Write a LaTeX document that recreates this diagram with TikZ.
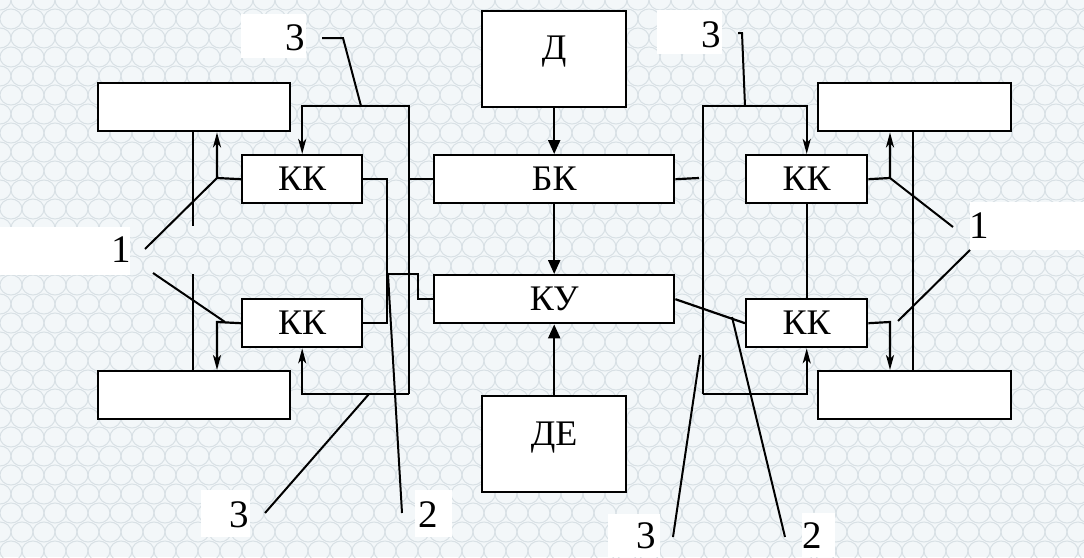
\documentclass[tikz,border=0pt]{standalone}
\usepackage{fontspec}
\setmainfont{Liberation Serif}
\usetikzlibrary{arrows.meta}
\definecolor{bgc}{HTML}{F3F7F9}
\definecolor{patc}{HTML}{D8E0E5}
\begin{document}
\begin{tikzpicture}[x=1pt,y=-1pt,
  box/.style={draw=black, fill=white, line width=2.4pt, inner sep=0pt, anchor=north west},
  cyr/.style={font=\fontsize{36}{40}\selectfont},
  wire/.style={line width=2.2pt, black},
  sarr/.style={wire, -{Stealth[length=15pt,width=8pt,inset=4pt]}},
  barr/.style={wire, -{Triangle[length=14pt,width=12pt]}},
  lead/.style={line width=2pt, black},
  num/.style={font=\fontsize{39}{42}\selectfont, anchor=base, inner sep=0pt},
  patch/.style={fill=white}
]
\useasboundingbox (0,0) rectangle (1084,557);
\fill[bgc] (0,0) rectangle (1084,557);
\begin{scope}
\clip (0,0) rectangle (1084,557);
\foreach \j in {0,...,30} {
  \foreach \i in {0,...,50} {
    \pgfmathsetmacro\xx{\i*22 + mod(\j,2)*11}
    \draw[patc, line width=1pt] (\xx, \j*19) ellipse [x radius=11, y radius=10];
  }
}
\end{scope}

% central column
\node[box, cyr, minimum width=144pt, minimum height=96pt, text height=48pt, text depth=48pt] (d) at (481,10) {Д};
\node[box, cyr, minimum width=240pt, minimum height=48pt] (bk) at (433,154) {БК};
\node[box, cyr, minimum width=240pt, minimum height=48pt] (ku) at (433,274) {КУ};
\node[box, cyr, minimum width=144pt, minimum height=96pt, text height=49pt, text depth=47pt] (de) at (481,395) {ДЕ};

% left side
\node[box, minimum width=192pt, minimum height=48pt] (btl) at (97,82) {};
\node[box, minimum width=192pt, minimum height=48pt] (bbl) at (97,370) {};
\node[box, cyr, minimum width=120pt, minimum height=48pt] (kktl) at (241,154) {КК};
\node[box, cyr, minimum width=120pt, minimum height=48pt] (kkbl) at (241,298) {КК};

% right side
\node[box, minimum width=193pt, minimum height=48pt] (btr) at (817,82) {};
\node[box, minimum width=193pt, minimum height=48pt] (bbr) at (817,370) {};
\node[box, cyr, minimum width=121pt, minimum height=48pt] (kktr) at (745,154) {КК};
\node[box, cyr, minimum width=121pt, minimum height=48pt] (kkbr) at (745,298) {КК};

% central arrows
\draw[barr] (d.south) -- (bk.north);
\draw[barr] (bk.south) -- (ku.north);
\draw[barr] (de.north) -- (ku.south);

% left connections
\coordinate (ja) at (217,178);
\coordinate (jb) at (217,322);
\draw[sarr] (kktl.west) -- (ja) -- (ja |- btl.south);
\draw[sarr] (kkbl.west) -- (jb) -- (jb |- bbl.north);
\coordinate (va) at (193,226);
\coordinate (vb) at (193,274);
\draw[wire] (va |- btl.south) -- (va);
\draw[wire] (vb) -- (vb |- bbl.north);
\coordinate (la) at (409,106);
\coordinate (lb) at (409,394);
\draw[sarr] (lb) -- (la) -- (la -| kktl.north) -- (kktl.north);
\draw[sarr] (lb) -- (lb -| kkbl.south) -- (kkbl.south);
\draw[wire] (bk.west) -- (bk.west -| la);
\coordinate (lc) at (387,274);
\coordinate (ld) at (418,274);
\draw[wire] (kktl.east) -- (kktl.east -| lc) -- (kkbl.east -| lc) -- (kkbl.east);
\draw[wire] (lc) -- (ld) -- (ld |- ku.west) -- (ku.west);

% right connections
\coordinate (ra) at (703,106);
\coordinate (rb) at (703,394);
\draw[sarr] (rb) -- (ra) -- (ra -| kktr.north) -- (kktr.north);
\draw[sarr] (rb) -- (rb -| kkbr.south) -- (kkbr.south);
\coordinate (re) at (699,178);
\draw[wire] (bk.east) -- (re);
\draw[wire] (kktr.south) -- (kkbr.north);
\draw[wire] (ku.east) -- (kkbr.west);
\coordinate (rc) at (890,178);
\coordinate (rd) at (890,322);
\draw[sarr] (kktr.east) -- (rc) -- (rc |- btr.south);
\draw[sarr] (kkbr.east) -- (rd) -- (rd |- bbr.north);
\coordinate (rv) at (913,0);
\draw[wire] (btr.south -| rv) -- (bbr.north -| rv);

% labels: left
\fill[patch] (241,14) rectangle (306,58);
\node[num] (n3a) at (295,50) {3};
\coordinate (p3a) at (322,38);
\coordinate (q3a) at (343,38);
\coordinate (e3a) at (361,106);
\draw[lead] (p3a) -- (q3a) -- (e3a);

\fill[patch] (0,227) rectangle (130,275);
\node[num] (n1a) at (121,262) {1};
\coordinate (p1a) at (145,249);
\coordinate (p1b) at (153,273);
\coordinate (e1b) at (225,322);
\draw[lead] (p1a) -- (ja);
\draw[lead] (p1b) -- (e1b);

\fill[patch] (201,490) rectangle (250,537);
\node[num] (n3b) at (239,527) {3};
\coordinate (p3b) at (265,513);
\coordinate (e3b) at (369,394);
\draw[lead] (p3b) -- (e3b);

\fill[patch] (415,490) rectangle (452,537);
\node[num] (n2a) at (428,527) {2};
\coordinate (p2a) at (402,513);
\coordinate (e2a) at (388,275);
\draw[lead] (p2a) -- (e2a);

% labels: right
\fill[patch] (657,10) rectangle (722,54);
\node[num] (n3c) at (711,47) {3};
\coordinate (p3c) at (738,33);
\coordinate (q3c) at (742,33);
\coordinate (e3c) at (745,106);
\draw[lead] (p3c) -- (q3c) -- (e3c);

\fill[patch] (970,202) rectangle (1084,250);
\node[num] (n1b) at (979,238) {1};
\coordinate (p1c) at (953,227);
\coordinate (p1d) at (970,250);
\coordinate (e1d) at (898,321);
\draw[lead] (p1c) -- (rc);
\draw[lead] (p1d) -- (e1d);

\fill[patch] (608,514) rectangle (660,557);
\node[num] (n3d) at (646,548) {3};
\coordinate (p3d) at (673,537);
\coordinate (e3d) at (700,355);
\draw[lead] (p3d) -- (e3d);

\fill[patch] (802,513) rectangle (835,557);
\node[num] (n2b) at (812,548) {2};
\coordinate (p2b) at (785,537);
\coordinate (e2b) at (732,317);
\draw[lead] (p2b) -- (e2b);
\end{tikzpicture}
\end{document}
